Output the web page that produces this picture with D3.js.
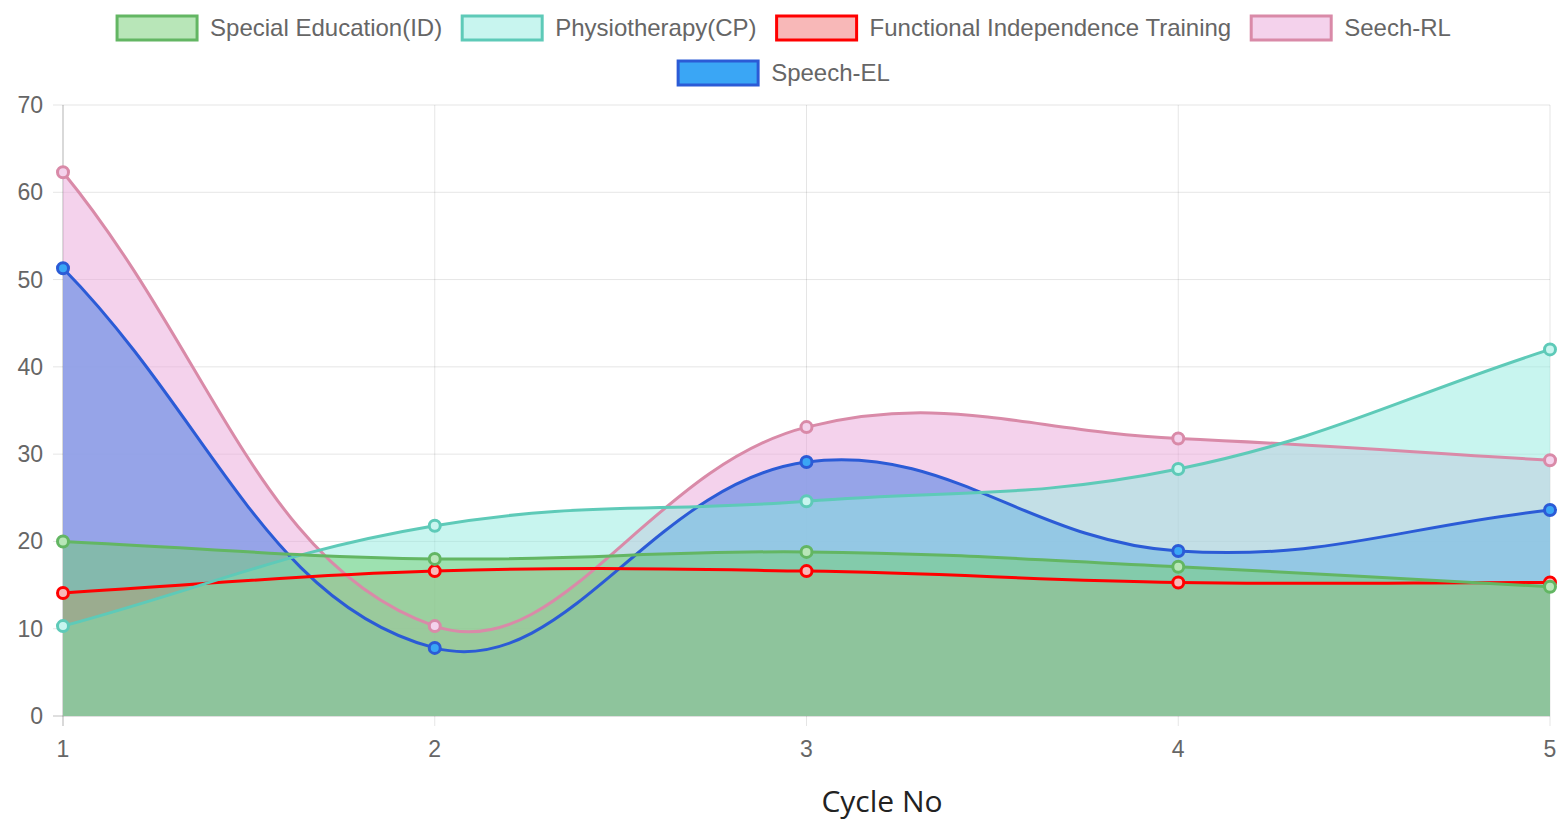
<!DOCTYPE html>
<html>
<head>
<meta charset="utf-8">
<script src="https://cdn.jsdelivr.net/npm/d3@7"></script>
<style>
  html, body { margin: 0; padding: 0; background: #fff; }
  svg { display: block; }
</style>
</head>
<body>
<svg id="chart" width="1564" height="827"></svg>
<script>
// chart data
const cycles = [1, 2, 3, 4, 5];
const seriesNames = ['Special Education(ID)', 'Physiotherapy(CP)', 'Functional Independence Training', 'Seech-RL', 'Speech-EL'];
const specialEducation = [20, 18, 18.8, 17.1, 14.8];
const physiotherapy = [10.3, 21.8, 24.6, 28.3, 42];
const functionalTraining = [14.1, 16.6, 16.6, 15.3, 15.3];
const speechRL = [62.3, 10.3, 33.1, 31.8, 29.3];
const speechEL = [51.3, 7.8, 29.1, 18.9, 23.6];
const yTicks = [0, 10, 20, 30, 40, 50, 60, 70];

// colours (line, fill)
const lineColors = ['#63b663', '#5ecab8', '#ff0000', '#d98aa8', '#2b5bd6'];
const fillColors = ['rgba(113,205,113,0.5)', 'rgba(145,235,223,0.5)', 'rgba(241,113,113,0.5)',
                    'rgba(233,165,217,0.5)', 'rgba(40,150,245,0.88)'];
const pointFills = ['#b8e6b8', '#c8f5ef', '#f8b8b8', '#f4d2ec', '#3aa6f5'];

const allValues = [specialEducation, physiotherapy, functionalTraining, speechRL, speechEL];

// layout
const plotLeft = 63, plotRight = 1550, plotTop = 105, plotBottom = 716;
const TICK_FONT = '"Liberation Sans", Arial, Helvetica, sans-serif';
const GREY = '#666';

const svg = d3.select('#chart');

const x = d3.scaleLinear().domain([1, 5]).range([plotLeft, plotRight]);
const y = d3.scaleLinear().domain([0, 70]).range([plotBottom, plotTop]);

/**
 * control points the way chart.js does it (tension 0.4)
 */
function controlPoints(pts, t) {
    return pts.map((cur, i) => {
        const prev = i > 0 ? pts[i - 1] : cur;
        const next = i < pts.length - 1 ? pts[i + 1] : cur;
        const d01 = Math.hypot(cur[0] - prev[0], cur[1] - prev[1]);
        const d12 = Math.hypot(next[0] - cur[0], next[1] - cur[1]);
        let s01 = d01 / (d01 + d12);
        let s12 = d12 / (d01 + d12);
        s01 = isNaN(s01) ? 0 : s01;
        s12 = isNaN(s12) ? 0 : s12;
        const fa = t * s01, fb = t * s12;
        const clampY = v => Math.max(plotTop, Math.min(plotBottom, v));
        return {
            prev: [cur[0] - fa * (next[0] - prev[0]), clampY(cur[1] - fa * (next[1] - prev[1]))],
            next: [cur[0] + fb * (next[0] - prev[0]), clampY(cur[1] + fb * (next[1] - prev[1]))]
        };
    });
}

function splinePath(values, closeToZero) {
    const pts = values.map((v, i) => [x(cycles[i]), y(v)]);
    const cps = controlPoints(pts, 0.4);
    const p = d3.path();
    p.moveTo(pts[0][0], pts[0][1]);
    for (let i = 1; i < pts.length; i++) {
        const a = cps[i - 1].next, b = cps[i].prev;
        p.bezierCurveTo(a[0], a[1], b[0], b[1], pts[i][0], pts[i][1]);
    }
    if (closeToZero) {
        p.lineTo(pts[pts.length - 1][0], y(0));
        p.lineTo(pts[0][0], y(0));
        p.closePath();
    }
    return p.toString();
}

// grid
const grid = svg.append('g');
grid.selectAll('.hgrid')
    .data(yTicks)
    .join('line')
    .attr('x1', plotLeft - 10).attr('x2', plotRight)
    .attr('y1', d => y(d)).attr('y2', d => y(d))
    .attr('stroke', d => d === 0 ? 'rgba(0,0,0,0.25)' : 'rgba(0,0,0,0.1)')
    .attr('stroke-width', 1);

grid.selectAll('.vgrid')
    .data(cycles)
    .join('line')
    .attr('x1', d => x(d)).attr('x2', d => x(d))
    .attr('y1', plotTop).attr('y2', plotBottom + 10)
    .attr('stroke', d => d === 1 ? 'rgba(0,0,0,0.3)' : 'rgba(0,0,0,0.1)')
    .attr('stroke-width', 1);

// tick labels
svg.append('g').selectAll('text')
    .data(yTicks)
    .join('text')
    .attr('x', plotLeft - 20)
    .attr('y', d => y(d))
    .attr('dy', '0.35em')
    .attr('text-anchor', 'end')
    .attr('font-family', TICK_FONT)
    .attr('font-size', 23)
    .attr('fill', GREY)
    .text(d => d);

svg.append('g').selectAll('text')
    .data(cycles)
    .join('text')
    .attr('x', d => x(d))
    .attr('y', plotBottom + 41)
    .attr('text-anchor', 'middle')
    .attr('font-family', TICK_FONT)
    .attr('font-size', 23)
    .attr('fill', GREY)
    .text(d => d);

// axis title
svg.append('text')
    .attr('x', 882)
    .attr('y', 812)
    .attr('text-anchor', 'middle')
    .attr('font-family', '"Open Sans", "Noto Sans", sans-serif')
    .attr('font-size', 30)
    .attr('fill', '#222')
    .text('Cycle No');

// datasets drawn in reverse order so the first one sits on top
const order = d3.range(allValues.length).reverse();

// fills first
svg.append('g').selectAll('path')
    .data(order)
    .join('path')
    .attr('d', i => splinePath(allValues[i], true))
    .attr('fill', i => fillColors[i])
    .attr('stroke', 'none');

// then lines and points
order.forEach(i => {
    const g = svg.append('g');
    g.append('path')
        .attr('d', splinePath(allValues[i], false))
        .attr('fill', 'none')
        .attr('stroke', lineColors[i])
        .attr('stroke-width', 3);
    g.selectAll('circle')
        .data(allValues[i])
        .join('circle')
        .attr('cx', (d, j) => x(cycles[j]))
        .attr('cy', d => y(d))
        .attr('r', 5.5)
        .attr('fill', pointFills[i])
        .attr('stroke', lineColors[i])
        .attr('stroke-width', 3);
});

// legend
const boxW = 80, boxH = 24, textGap = 13, itemGap = 20, maxRow = 1480;
const legend = svg.append('g');
const items = legend.selectAll('g')
    .data(seriesNames)
    .join('g');
items.append('rect')
    .attr('width', boxW).attr('height', boxH)
    .attr('fill', (d, i) => pointFills[i])
    .attr('stroke', (d, i) => lineColors[i])
    .attr('stroke-width', 3);
items.append('text')
    .attr('x', boxW + textGap)
    .attr('y', boxH / 2)
    .attr('dy', '0.35em')
    .attr('font-family', TICK_FONT)
    .attr('font-size', 24)
    .attr('fill', GREY)
    .text(d => d);

// wrap the legend items into centred rows
const widths = [];
items.select('text').each(function () { widths.push(boxW + textGap + this.getComputedTextLength()); });
const rows = [[]];
let rowW = 0;
widths.forEach((w, i) => {
    const add = rows[rows.length - 1].length ? w + itemGap : w;
    if (rowW + add > maxRow) { rows.push([i]); rowW = w; }
    else { rows[rows.length - 1].push(i); rowW += add; }
});
const rowPos = [];
rows.forEach((r, ri) => {
    const total = d3.sum(r, i => widths[i]) + itemGap * (r.length - 1);
    let cx = 784 - total / 2;
    r.forEach(i => { rowPos[i] = [cx, 16 + ri * 45]; cx += widths[i] + itemGap; });
});
items.attr('transform', (d, i) => `translate(${rowPos[i][0]},${rowPos[i][1]})`);
</script>
</body>
</html>
